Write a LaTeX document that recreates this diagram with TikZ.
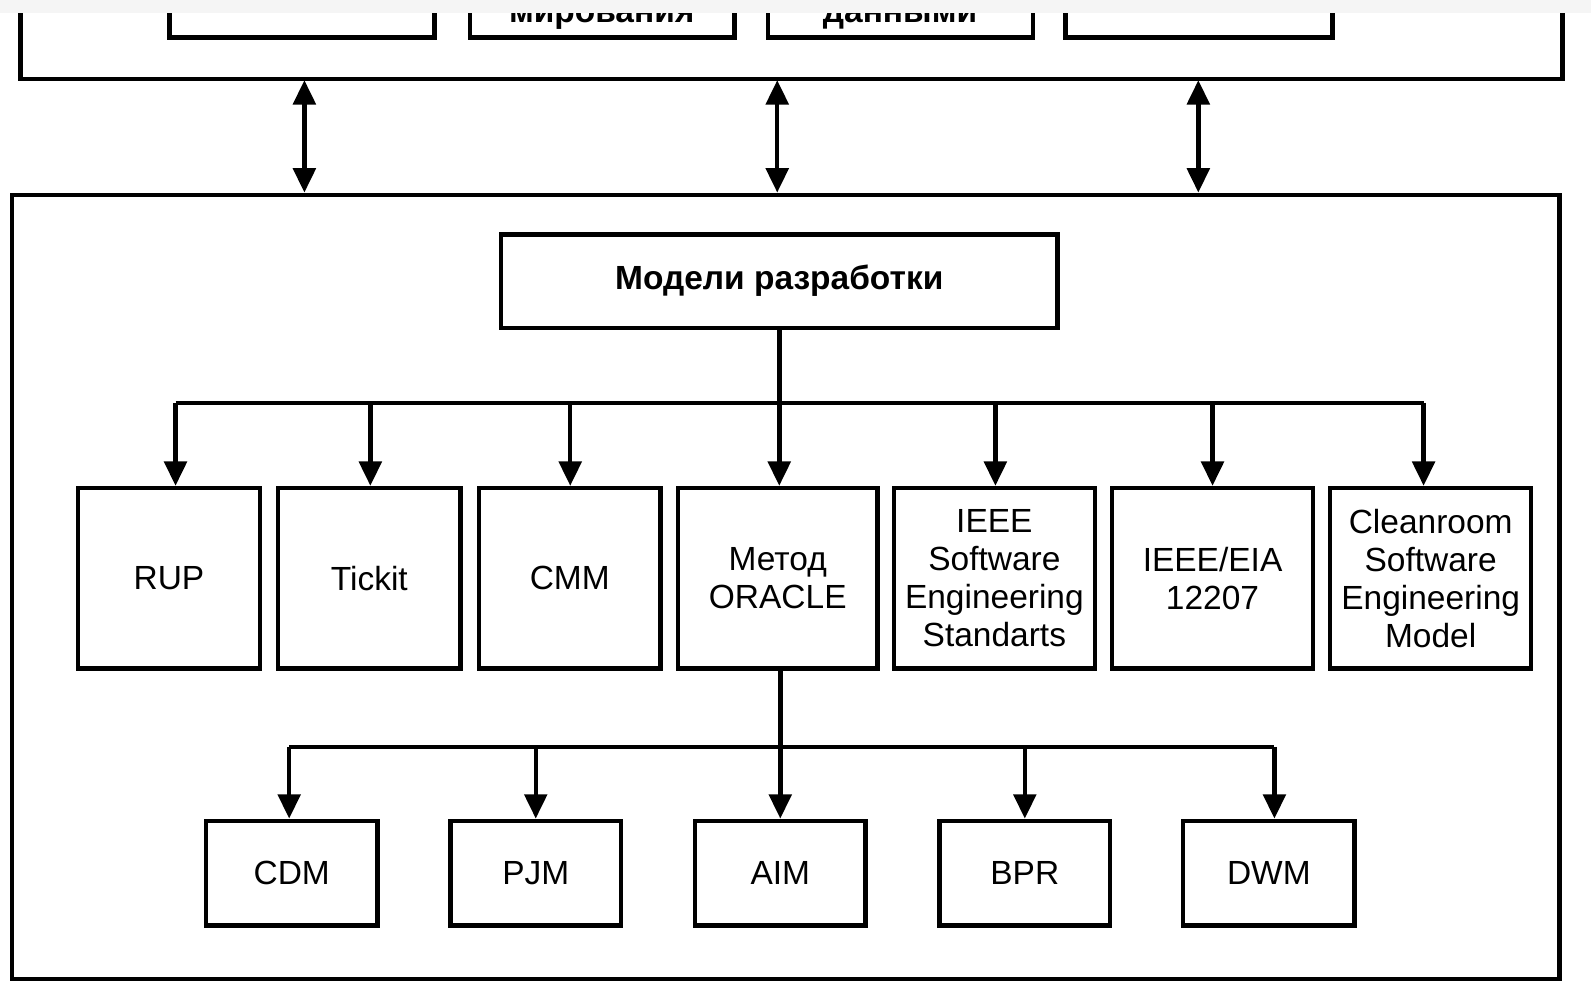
\documentclass[tikz,border=0pt]{standalone}
\usepackage{fontspec}
\setmainfont{Liberation Sans}
\usetikzlibrary{arrows.meta}
\tikzset{
  ln/.style={line width=2.2pt},
  box/.style={draw,line width=2.2pt,inner sep=0pt,align=center,
    font=\fontsize{16.5}{18.75}\selectfont,minimum height=89pt},
  sbox/.style={box,minimum height=51.5pt},
  arr/.style={line width=2.2pt,-{Triangle[length=12pt,width=11pt]}},
  darr/.style={line width=2.2pt,{Triangle[length=12pt,width=11pt]}-{Triangle[length=12pt,width=11pt]}},
  cut/.style={font=\bfseries\fontsize{16.5}{18.75}\selectfont,anchor=base,inner sep=0pt}
}
\begin{document}
\begin{tikzpicture}[x=0.5pt,y=-0.5pt]
\useasboundingbox (0,0) rectangle (1568,969);
\fill[gray!8] (0,0) rectangle (1568,13);
% top (cut) block
\begin{scope}
  \clip (0,13) rectangle (1568,969);
  \draw[ln] (20,0) -- (20,78) -- (1540,78) -- (1540,0);
  \draw[ln] (167,0) -- (167,37) -- (428,37) -- (428,0);
  \draw[ln] (463,0) -- (463,37) -- (724,37) -- (724,0);
  \draw[ln] (757,0) -- (757,37) -- (1018,37) -- (1018,0);
  \draw[ln] (1050,0) -- (1050,37) -- (1313,37) -- (1313,0);
  \node[cut] (tx2) at (593,22) {мирования};
  \node[cut] (tx3) at (887,22) {данными};
\end{scope}
\coordinate (t1) at (300,79);
\coordinate (t2) at (766,79);
\coordinate (t3) at (1181,79);
% main block
\node[draw,line width=2.2pt,minimum width=762.5pt,minimum height=386.5pt,inner sep=0pt] (main) at (774.5,578.5) {};
\draw[darr] (t1) -- (t1 |- main.north);
\draw[darr] (t2) -- (t2 |- main.north);
\draw[darr] (t3) -- (t3 |- main.north);
\node[box,minimum width=274pt,minimum height=46pt,font=\bfseries\fontsize{16.5}{18.75}\selectfont] (model) at (768,277) {Модели разработки};
% row of models
\node[box,minimum width=89.5pt] (rup) at (166.5,570) {RUP};
\node[box,minimum width=90pt] (tickit) at (364,570) {Tickit};
\node[box,minimum width=89.5pt] (cmm) at (561.5,570) {CMM};
\node[box,minimum width=98.5pt] (metod) at (766.5,570) {Метод\\ORACLE};
\node[box,minimum width=99pt] (ieee) at (980,570) {IEEE\\Software\\Engineering\\Standarts};
\node[box,minimum width=99pt] (eia) at (1195,570) {IEEE/EIA\\12207};
\node[box,minimum width=99pt] (clean) at (1410,570) {Cleanroom\\Software\\Engineering\\Model};
% bus 1
\coordinate (b1) at (173,397);
\coordinate (b2) at (365,397);
\coordinate (b3) at (562,397);
\coordinate (b5) at (981,397);
\coordinate (b6) at (1195,397);
\coordinate (b7) at (1403,397);
\draw[ln] (b1) -- (b7);
\draw[arr] (model.south) -- (model.south |- metod.north);
\draw[arr] (b1) -- (b1 |- rup.north);
\draw[arr] (b2) -- (b2 |- tickit.north);
\draw[arr] (b3) -- (b3 |- cmm.north);
\draw[arr] (b5) -- (b5 |- ieee.north);
\draw[arr] (b6) -- (b6 |- eia.north);
\draw[arr] (b7) -- (b7 |- clean.north);
% bottom row
\node[sbox,minimum width=84.5pt] (cdm) at (287.5,860.5) {CDM};
\node[sbox,minimum width=84pt] (pjm) at (528,860.5) {PJM};
\node[sbox,minimum width=84pt] (aim) at (769,860.5) {AIM};
\node[sbox,minimum width=84pt] (bpr) at (1010,860.5) {BPR};
\node[sbox,minimum width=84.5pt] (dwm) at (1250.5,860.5) {DWM};
\coordinate (c1) at (285,736);
\coordinate (c2) at (528,736);
\coordinate (c4) at (1010,736);
\coordinate (c5) at (1256,736);
\draw[ln] (c1) -- (c5);
\draw[arr] (aim.north |- metod.south) -- (aim.north);
\draw[arr] (c1) -- (c1 |- cdm.north);
\draw[arr] (c2) -- (c2 |- pjm.north);
\draw[arr] (c4) -- (c4 |- bpr.north);
\draw[arr] (c5) -- (c5 |- dwm.north);
\end{tikzpicture}
\end{document}
